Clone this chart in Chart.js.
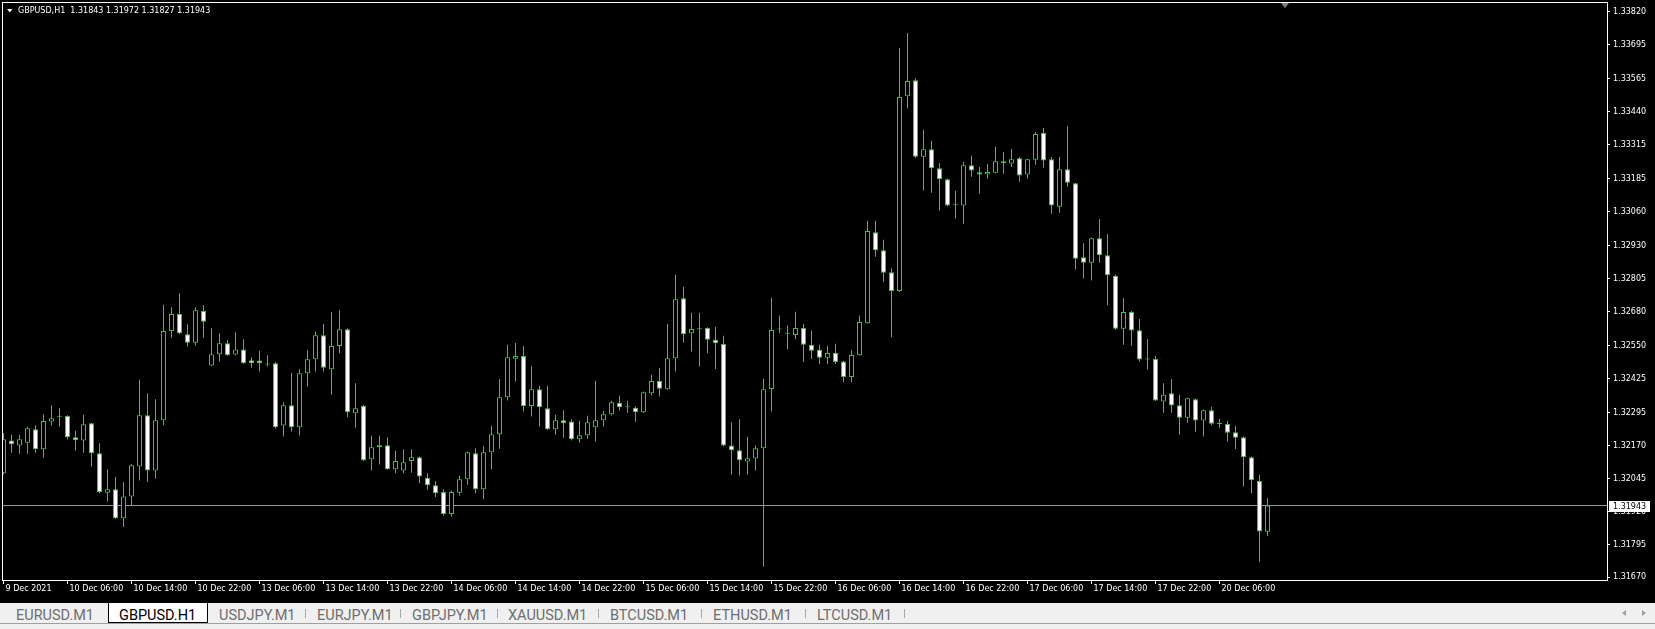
<!DOCTYPE html>
<html>
<head>
<meta charset="utf-8">
<script src="https://cdn.jsdelivr.net/npm/chart.js@4.4.1/dist/chart.umd.min.js"></script>
<style>
  html, body { margin: 0; padding: 0; background: #000; }
  #wrap { position: relative; width: 1655px; height: 629px; overflow: hidden; background: #000; }
  #chart { position: absolute; left: 0; top: 0; background: #000; }
  #tabs { position: absolute; left: 0; top: 602px; width: 1655px; height: 27px; background: #f0f0f0;
          border-top: 1px solid #000; box-sizing: border-box; font-family: Roboto, sans-serif; font-size: 14.5px; }
  #tabs .t { position: absolute; top: 4px; line-height: 17px; color: #6e6e6e; white-space: nowrap; }
  #tabs .t.on { color: #000; }
  #tabs .act { position: absolute; left: 108px; top: 0; width: 100px; height: 20px; background: #fff;
               border: 1px solid #000; border-top: none; box-sizing: border-box; }
  #tabs .sep { position: absolute; top: 6px; width: 1px; height: 9px; background: #a8a8a8; }
  #tabs .line { position: absolute; left: 0; top: 20px; width: 1655px; height: 1px; background: #a0a0a0; }
  #tabs .arr { position: absolute; top: 7px; width: 0; height: 0; border-top: 3px solid transparent; border-bottom: 3px solid transparent; }
</style>
</head>
<body>
<div id="wrap">
  <canvas id="chart" width="1655" height="602"></canvas>
  <div id="tabs">
    <div class="line"></div>
    <div class="act"></div>
    <span class="t" style="left:16px">EURUSD.M1</span>
    <span class="t on" style="left:119px">GBPUSD.H1</span>
    <span class="t" style="left:219px">USDJPY.M1</span>
    <span class="sep" style="left:305px"></span>
    <span class="t" style="left:317px">EURJPY.M1</span>
    <span class="sep" style="left:400px"></span>
    <span class="t" style="left:412px">GBPJPY.M1</span>
    <span class="sep" style="left:497px"></span>
    <span class="t" style="left:508px">XAUUSD.M1</span>
    <span class="sep" style="left:598px"></span>
    <span class="t" style="left:610px">BTCUSD.M1</span>
    <span class="sep" style="left:701px"></span>
    <span class="t" style="left:713px">ETHUSD.M1</span>
    <span class="sep" style="left:805px"></span>
    <span class="t" style="left:817px">LTCUSD.M1</span>
    <span class="sep" style="left:904px"></span>
    <span class="arr" style="left:1622px;border-right:4px solid #a0a0a0"></span>
    <span class="arr" style="left:1642px;border-left:4px solid #a0a0a0"></span>
  </div>
</div>
<script>
// GBPUSD H1 candles, bar 0 = 9 Dec 2021 22:00 (weekend bars skipped)
var symbol = 'GBPUSD,H1';

var open = [
  1.32066, 1.32190, 1.32171, 1.32182, 1.32233, 1.32157, 1.32262, 1.32281, 1.32283, 1.32203,
  1.32190, 1.32256, 1.32142, 1.31992, 1.32005, 1.31895, 1.31977, 1.32091, 1.32286, 1.32076,
  1.32267, 1.32606, 1.32671, 1.32594, 1.32562, 1.32682, 1.32475, 1.32518, 1.32560, 1.32517,
  1.32536, 1.32495, 1.32494, 1.32481, 1.32484, 1.32247, 1.32324, 1.32241, 1.32446, 1.32499,
  1.32590, 1.32461, 1.32549, 1.32613, 1.32294, 1.32322, 1.32119, 1.32165, 1.32172, 1.32081,
  1.32076, 1.32112, 1.32127, 1.32049, 1.32020, 1.31994, 1.31911, 1.31992, 1.32043, 1.32142,
  1.32005, 1.32146, 1.32214, 1.32355, 1.32501, 1.32511, 1.32321, 1.32385, 1.32313, 1.32233,
  1.32267, 1.32262, 1.32195, 1.32210, 1.32241, 1.32267, 1.32290, 1.32334, 1.32319, 1.32315,
  1.32298, 1.32370, 1.32416, 1.32385, 1.32503, 1.32731, 1.32598, 1.32617, 1.32618, 1.32573,
  1.32557, 1.32171, 1.32153, 1.32110, 1.32122, 1.32161, 1.32386, 1.32614, 1.32599, 1.32591,
  1.32618, 1.32554, 1.32535, 1.32505, 1.32523, 1.32490, 1.32432, 1.32514, 1.32636, 1.32982,
  1.32913, 1.32830, 1.32758, 1.33499, 1.33559, 1.33269, 1.33297, 1.33225, 1.33183, 1.33087,
  1.33083, 1.33236, 1.33210, 1.33201, 1.33208, 1.33252, 1.33243, 1.33263, 1.33201, 1.33257,
  1.33360, 1.33259, 1.33079, 1.33221, 1.33168, 1.32887, 1.32866, 1.32959, 1.32894, 1.32816,
  1.32615, 1.32679, 1.32609, 1.32500, 1.32500, 1.32338, 1.32370, 1.32324, 1.32277, 1.32347,
  1.32266, 1.32305, 1.32256, 1.32253, 1.32222, 1.32203, 1.32127, 1.32036, 1.31843
];
var high = [
  1.32218, 1.32212, 1.32212, 1.32243, 1.32248, 1.32290, 1.32324, 1.32313, 1.32286, 1.32227,
  1.32288, 1.32258, 1.32180, 1.32081, 1.32051, 1.32032, 1.32101, 1.32421, 1.32370, 1.32347,
  1.32706, 1.32697, 1.32750, 1.32632, 1.32697, 1.32704, 1.32617, 1.32598, 1.32571, 1.32602,
  1.32575, 1.32507, 1.32531, 1.32514, 1.32488, 1.32336, 1.32447, 1.32461, 1.32535, 1.32604,
  1.32633, 1.32679, 1.32687, 1.32617, 1.32408, 1.32326, 1.32208, 1.32208, 1.32203, 1.32151,
  1.32157, 1.32157, 1.32129, 1.32066, 1.32036, 1.32005, 1.32000, 1.32056, 1.32148, 1.32161,
  1.32170, 1.32246, 1.32424, 1.32554, 1.32561, 1.32549, 1.32474, 1.32398, 1.32398, 1.32288,
  1.32305, 1.32271, 1.32265, 1.32284, 1.32417, 1.32303, 1.32341, 1.32360, 1.32341, 1.32319,
  1.32376, 1.32440, 1.32466, 1.32633, 1.32820, 1.32775, 1.32676, 1.32676, 1.32621, 1.32623,
  1.32588, 1.32260, 1.32271, 1.32204, 1.32171, 1.32425, 1.32733, 1.32665, 1.32627, 1.32680,
  1.32633, 1.32608, 1.32554, 1.32550, 1.32558, 1.32493, 1.32535, 1.32665, 1.33025, 1.33025,
  1.32953, 1.32845, 1.33682, 1.33739, 1.33567, 1.33371, 1.33329, 1.33245, 1.33186, 1.33139,
  1.33249, 1.33272, 1.33230, 1.33241, 1.33307, 1.33287, 1.33298, 1.33268, 1.33261, 1.33363,
  1.33378, 1.33268, 1.33268, 1.33386, 1.33170, 1.32940, 1.32962, 1.33032, 1.32975, 1.32821,
  1.32732, 1.32682, 1.32652, 1.32576, 1.32512, 1.32408, 1.32424, 1.32364, 1.32353, 1.32350,
  1.32308, 1.32318, 1.32272, 1.32265, 1.32246, 1.32205, 1.32129, 1.32060, 1.31972
];
var low = [
  1.32060, 1.32144, 1.32140, 1.32140, 1.32144, 1.32125, 1.32247, 1.32243, 1.32195, 1.32152,
  1.32144, 1.32091, 1.31990, 1.31958, 1.31892, 1.31861, 1.31944, 1.32038, 1.32032, 1.32045,
  1.32248, 1.32581, 1.32594, 1.32547, 1.32551, 1.32581, 1.32472, 1.32490, 1.32512, 1.32513,
  1.32482, 1.32467, 1.32452, 1.32471, 1.32235, 1.32205, 1.32224, 1.32209, 1.32395, 1.32452,
  1.32452, 1.32364, 1.32522, 1.32279, 1.32239, 1.32112, 1.32076, 1.32099, 1.32079, 1.32066,
  1.32066, 1.32068, 1.32028, 1.32003, 1.31975, 1.31904, 1.31900, 1.31980, 1.32022, 1.31990,
  1.31967, 1.32081, 1.32159, 1.32342, 1.32414, 1.32300, 1.32281, 1.32243, 1.32230, 1.32212,
  1.32201, 1.32190, 1.32182, 1.32197, 1.32186, 1.32243, 1.32285, 1.32304, 1.32296, 1.32261,
  1.32295, 1.32361, 1.32357, 1.32383, 1.32452, 1.32562, 1.32528, 1.32471, 1.32522, 1.32462,
  1.32167, 1.32061, 1.32057, 1.32061, 1.32076, 1.31710, 1.32300, 1.32598, 1.32537, 1.32575,
  1.32489, 1.32500, 1.32481, 1.32481, 1.32481, 1.32412, 1.32412, 1.32512, 1.32634, 1.32889,
  1.32792, 1.32583, 1.32755, 1.33453, 1.33265, 1.33140, 1.33132, 1.33064, 1.33080, 1.33034,
  1.33014, 1.33193, 1.33128, 1.33186, 1.33206, 1.33204, 1.33230, 1.33174, 1.33186, 1.33238,
  1.33227, 1.33052, 1.33056, 1.33155, 1.32840, 1.32806, 1.32798, 1.32866, 1.32704, 1.32610,
  1.32554, 1.32550, 1.32490, 1.32460, 1.32340, 1.32296, 1.32296, 1.32212, 1.32258, 1.32223,
  1.32205, 1.32248, 1.32239, 1.32186, 1.32158, 1.32015, 1.31990, 1.31727, 1.31827
];
var close = [
  1.32195, 1.32176, 1.32195, 1.32237, 1.32157, 1.32264, 1.32275, 1.32280, 1.32203, 1.32191,
  1.32252, 1.32142, 1.31994, 1.32005, 1.31895, 1.31977, 1.32096, 1.32286, 1.32076, 1.32267,
  1.32606, 1.32671, 1.32598, 1.32562, 1.32685, 1.32642, 1.32518, 1.32560, 1.32514, 1.32536,
  1.32484, 1.32484, 1.32484, 1.32479, 1.32241, 1.32324, 1.32241, 1.32446, 1.32499, 1.32590,
  1.32467, 1.32549, 1.32613, 1.32298, 1.32313, 1.32115, 1.32165, 1.32172, 1.32081, 1.32112,
  1.32108, 1.32127, 1.32053, 1.32020, 1.31990, 1.31911, 1.31994, 1.32043, 1.32146, 1.32005,
  1.32146, 1.32214, 1.32355, 1.32507, 1.32511, 1.32321, 1.32385, 1.32317, 1.32233, 1.32267,
  1.32256, 1.32195, 1.32210, 1.32260, 1.32267, 1.32290, 1.32336, 1.32317, 1.32317, 1.32298,
  1.32374, 1.32416, 1.32387, 1.32503, 1.32727, 1.32594, 1.32614, 1.32613, 1.32573, 1.32560,
  1.32171, 1.32153, 1.32115, 1.32123, 1.32161, 1.32385, 1.32610, 1.32612, 1.32596, 1.32618,
  1.32554, 1.32531, 1.32505, 1.32523, 1.32489, 1.32432, 1.32515, 1.32641, 1.32986, 1.32913,
  1.32828, 1.32758, 1.33496, 1.33557, 1.33269, 1.33297, 1.33225, 1.33183, 1.33083, 1.33084,
  1.33236, 1.33216, 1.33201, 1.33211, 1.33252, 1.33244, 1.33259, 1.33197, 1.33259, 1.33355,
  1.33254, 1.33083, 1.33221, 1.33170, 1.32881, 1.32866, 1.32959, 1.32894, 1.32818, 1.32615,
  1.32679, 1.32608, 1.32498, 1.32498, 1.32342, 1.32364, 1.32323, 1.32277, 1.32351, 1.32266,
  1.32305, 1.32254, 1.32253, 1.32220, 1.32201, 1.32127, 1.32039, 1.31844, 1.31943
];

// time axis: a label every 8 bars
var timeTickBars = [0, 8, 16, 24, 32, 40, 48, 56, 64, 72, 80, 88, 96, 104, 112, 120, 128, 136, 144, 152];
var timeLabels = ['9 Dec 2021', '10 Dec 06:00', '10 Dec 14:00', '10 Dec 22:00', '13 Dec 06:00', '13 Dec 14:00',
  '13 Dec 22:00', '14 Dec 06:00', '14 Dec 14:00', '14 Dec 22:00', '15 Dec 06:00', '15 Dec 14:00',
  '15 Dec 22:00', '16 Dec 06:00', '16 Dec 14:00', '16 Dec 22:00', '17 Dec 06:00', '17 Dec 14:00',
  '17 Dec 22:00', '20 Dec 06:00'];

// price axis labels
var priceTicks = [1.33820, 1.33695, 1.33565, 1.33440, 1.33315, 1.33185, 1.33060, 1.32930, 1.32805,
  1.32680, 1.32550, 1.32425, 1.32295, 1.32170, 1.32045, 1.31920, 1.31795, 1.31670];

var GREEN = '#32cd32';
var lastPrice = close[close.length - 1];

// visible window: 8px per bar
var xMin = -0.0625, xMax = 200.4375;
var yMin = 1.31660, yMax = 1.33853;

Chart.defaults.font.family = 'DejaVu Sans';
Chart.defaults.font.size = 8;
Chart.defaults.color = '#ffffff';

// frame, bid line box, header text, shift marker
var mtDecor = {
    id: 'mtDecor',
    afterDraw: function (chart) {
        var c = chart.ctx, a = chart.chartArea, ys = chart.scales.y, xs = chart.scales.x;
        c.save();
        c.strokeStyle = '#ffffff';
        c.lineWidth = 1;
        c.strokeRect(a.left - 0.5, a.top - 0.5, a.right - a.left + 1, a.bottom - a.top + 1);

        // bid price box on the price scale
        var py = Math.round(ys.getPixelForValue(lastPrice));
        c.fillStyle = '#ffffff';
        c.fillRect(a.right + 2, py - 5, 41, 11);
        c.fillStyle = '#000000';
        c.font = '8px "DejaVu Sans"';
        c.textBaseline = 'middle';
        c.fillText(lastPrice.toFixed(5), a.right + 6, py + 0.5);

        // header: symbol and OHLC of the last bar
        var n = close.length - 1;
        c.fillStyle = '#ffffff';
        c.beginPath();
        c.moveTo(7, 9); c.lineTo(12.5, 9); c.lineTo(9.75, 12.5); c.closePath();
        c.fill();
        c.fillText(symbol + '  ' + open[n].toFixed(5) + ' ' + high[n].toFixed(5) + ' ' +
            low[n].toFixed(5) + ' ' + close[n].toFixed(5), 18, 11);

        // chart shift marker
        var sx = Math.round(xs.getPixelForValue(160.2));
        c.fillStyle = '#808080';
        c.beginPath();
        c.moveTo(sx - 4, a.top); c.lineTo(sx + 4, a.top); c.lineTo(sx, a.top + 5); c.closePath();
        c.fill();
        c.restore();
    }
};

var ctx = document.getElementById('chart').getContext('2d');
var myChart = new Chart(ctx, {
    type: 'bar',
    data: {
        datasets: [{
            label: 'body',
            order: 0,
            data: open.map(function (o, i) { return { x: i, y: [Math.min(o, close[i]), Math.max(o, close[i])] }; }),
            backgroundColor: function (context) {
                var i = context.dataIndex;
                return close[i] > open[i] ? '#000000' : '#ffffff'; //bull hollow, bear white
            },
            borderColor: GREEN,
            borderWidth: 1,
            borderSkipped: false,
            barThickness: 5,
            minBarLength: 1,
            inflateAmount: 0,
            grouped: false,
            clip: 0
        }, {
            label: 'wick',
            order: 1,
            data: low.map(function (l, i) { return { x: i, y: [l, high[i]] }; }),
            backgroundColor: GREEN,
            borderWidth: 0,
            barThickness: 1,
            inflateAmount: 0,
            grouped: false,
            clip: 0
        }, {
            type: 'line',
            label: 'bid',
            order: 2,
            data: [{ x: xMin, y: lastPrice }, { x: xMax, y: lastPrice }],
            borderColor: '#9a9a9a',
            borderWidth: 1,
            pointRadius: 0,
            clip: 0
        }]
    },
    options: {
        responsive: false,
        animation: false,
        devicePixelRatio: 1,
        events: [],
        layout: { padding: { left: 3, top: 3, right: 0, bottom: 0 } },
        plugins: { legend: { display: false }, tooltip: { enabled: false } },
        scales: {
            x: {
                type: 'linear',
                offset: false,
                min: xMin,
                max: xMax,
                afterBuildTicks: function (axis) {
                    axis.ticks = timeTickBars.map(function (v) { return { value: v }; });
                },
                afterFit: function (axis) {
                    axis.height = 22;
                    axis.paddingLeft = 0; axis.paddingRight = 0;
                },
                grid: { offset: false, drawOnChartArea: false, tickLength: 4, tickColor: '#ffffff', tickWidth: 1 },
                border: { display: false },
                ticks: {
                    autoSkip: false,
                    maxRotation: 0,
                    align: 'start',
                    labelOffset: 2,
                    padding: 0,
                    color: '#ffffff',
                    callback: function (value, index) { return timeLabels[index]; }
                }
            },
            y: {
                position: 'right',
                min: yMin,
                max: yMax,
                afterBuildTicks: function (axis) {
                    axis.ticks = priceTicks.map(function (v) { return { value: v }; });
                },
                afterFit: function (axis) {
                    axis.width = 48;
                    axis.paddingTop = 0; axis.paddingBottom = 0;
                },
                grid: { drawOnChartArea: false, tickLength: 3, tickColor: '#ffffff', tickWidth: 1 },
                border: { display: false },
                ticks: {
                    autoSkip: false,
                    padding: 3,
                    color: '#ffffff',
                    callback: function (value) { return value.toFixed(5); }
                }
            }
        }
    },
    plugins: [mtDecor]
});
</script>
</body>
</html>
